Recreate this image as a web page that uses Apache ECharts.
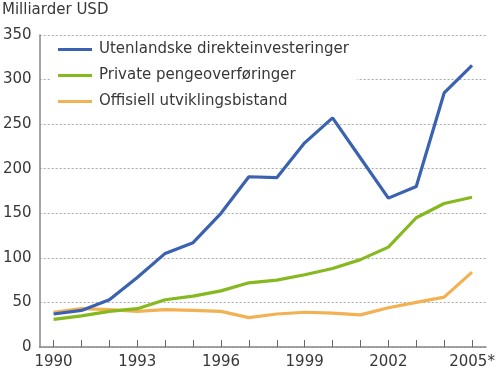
<!DOCTYPE html>
<html><head><meta charset="utf-8">
<script src="https://cdn.jsdelivr.net/npm/echarts@6/dist/echarts.min.js"></script>
<style>html,body{margin:0;padding:0;background:#fff}#c{width:500px;height:373px}</style>
</head><body><div id="c"></div>
<script>
var years = ['1990','1991','1992','1993','1994','1995','1996','1997','1998','1999','2000','2001','2002','2003','2004','2005*'];
var fdi = [37, 41, 53, 78, 105, 117, 150, 191, 190, 229, 257, 212, 167, 180, 285, 316];
var remit = [31, 35, 40, 43, 53, 57, 63, 72, 75, 81, 88, 98, 112, 145, 161, 168];
var oda = [39, 43, 42, 40, 42, 41, 40, 33, 37, 39, 38, 36, 44, 50, 56, 84];
var names = ['Utenlandske direkteinvesteringer', 'Private pengeoverføringer', 'Offisiell utviklingsbistand'];
var yTicks = [0, 50, 100, 150, 200, 250, 300, 350];
var colors = ['#3b62b0', '#86b920', '#f2b152'];
var font = 'DejaVu Sans, Verdana, sans-serif';
var chart = echarts.init(document.getElementById('c'), null, {renderer: 'canvas'});
function mk(name, data, i) {
  return {name: name, type: 'line', data: data, symbol: 'none', smooth: false,
    lineStyle: {color: colors[i], width: 3.2}, itemStyle: {color: colors[i]}, z: 3 - i};
}
chart.setOption({
  animation: false,
  title: {text: 'Milliarder USD', left: -3, top: -2,
    textStyle: {fontFamily: font, fontSize: 15, fontWeight: 'normal', color: '#383838'}},
  legend: {
    data: names, orient: 'vertical', left: 50, top: 38, itemWidth: 34, itemHeight: 3,
    itemGap: 11, backgroundColor: '#fff', padding: [4, 8, 4, 8], icon: 'rect',
    textStyle: {fontFamily: font, fontSize: 15, color: '#383838', padding: [0, 0, 0, 2]}
  },
  grid: {left: 39, right: 14, top: 35, bottom: 26, containLabel: false},
  xAxis: {
    type: 'category', data: years, boundaryGap: true,
    axisLine: {lineStyle: {color: '#888', width: 1.5}},
    axisTick: {show: true, inside: true, length: 7, alignWithLabel: true, interval: 0,
      lineStyle: {color: '#666', width: 1}},
    axisLabel: {interval: 2, color: '#383838', fontFamily: font, fontSize: 15, margin: 8},
    splitLine: {show: false}
  },
  yAxis: {
    type: 'value', min: yTicks[0], max: yTicks[yTicks.length - 1], interval: 50,
    axisLine: {show: true, lineStyle: {color: '#888', width: 1.5}},
    axisTick: {show: false},
    axisLabel: {color: '#383838', fontFamily: font, fontSize: 15, margin: 8},
    splitLine: {show: true, lineStyle: {color: '#aaa', type: [2, 2], width: 1}}
  },
  series: [mk(names[0], fdi, 0), mk(names[1], remit, 1), mk(names[2], oda, 2)]
});
</script></body></html>
